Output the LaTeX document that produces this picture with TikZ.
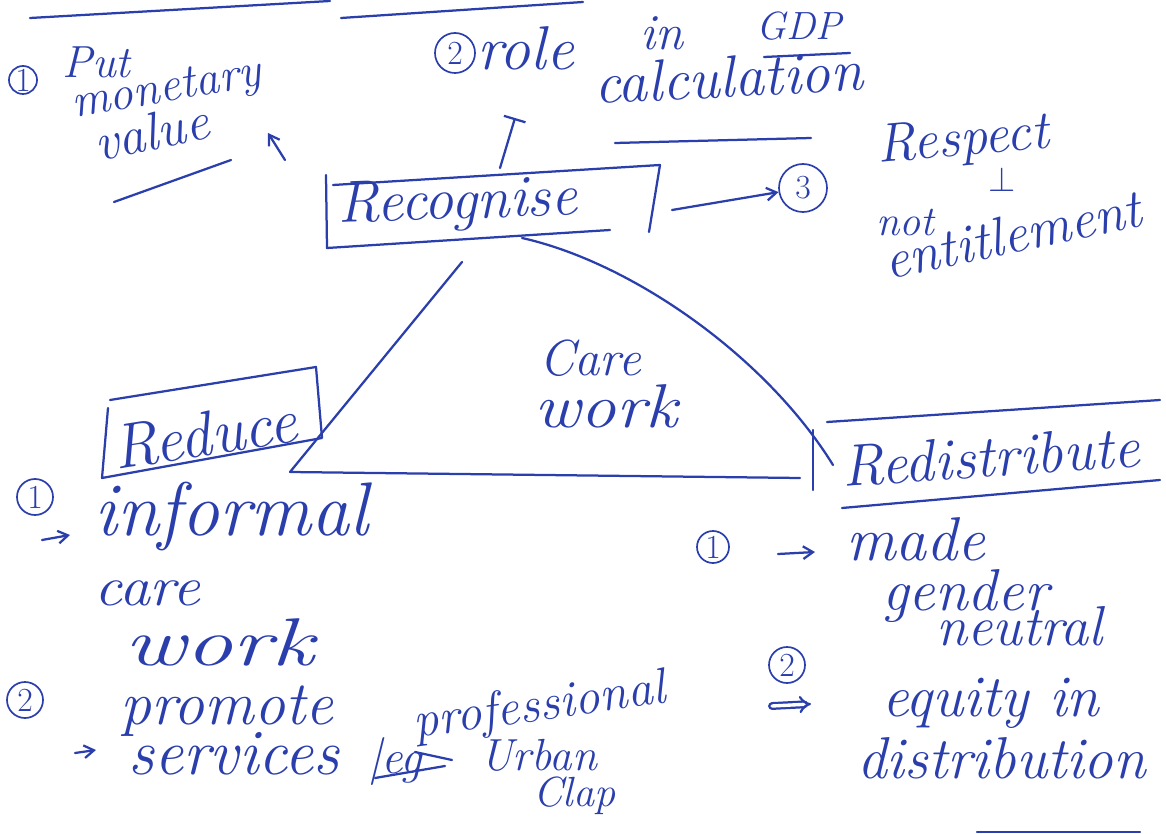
\documentclass[tikz,border=0pt]{standalone}
\usepackage{fontspec}
\usepackage{graphicx}
\usepackage{tikz}
\usetikzlibrary{arrows.meta}
\definecolor{ink}{RGB}{42,62,172}

\begin{document}
\begin{tikzpicture}[x=0.025cm,y=-0.025cm,
	hand/.style={text=ink,font=\fontsize{#1}{#1}\selectfont\itshape,anchor=base west,inner sep=0pt},
	hand/.default=42,
	numc/.style={circle,draw=ink,line width=1.2pt,text=ink,inner sep=0pt,minimum size=#1,font=\fontsize{24}{24}\selectfont},
	numc/.default=0.9cm,
	pen/.style={draw=ink,line width=1.6pt,line cap=round,line join=round},
	arr/.style={pen,-{Straight Barb[length=7pt,width=9pt]}}]
	\useasboundingbox (0,0) rectangle (1166,834);
	
	%top left: monetary value
	\node[numc=0.7cm] (onetop) at (23,80) {1};
	\node[hand=32] (put) at (62,78) {Put};
	\node[hand=34,rotate=10] (monetary) at (74,118) {monetary};
	\node[hand=38,rotate=12] (value) at (98,162) {value};
	%
	%top middle: GDP
	\node[numc=1.0cm] (twotop) at (455,53) {2};
	\node[hand=44] (role) at (477,70) {role};
	\node[hand=36] (in) at (640,50) {in};
	\node[hand=28] (gdp) at (756,40) {GDP};
	\node[hand,rotate=3] (calc) at (595,104) {calculation};
	%
	%recognise
	\node[hand,rotate=2] (recog) at (338,223) {Recognise};
	\node[numc=1.2cm] (three) at (803,188) {3};
	\node[hand=39,rotate=5] (respect) at (878,163) {Respect};
	\node[hand=26] (perp) at (988,192) {$\perp$};
	\node[hand=30] (not) at (876,236) {not};
	\node[hand=39,rotate=12] (entitle) at (888,280) {entitlement};
	%
	%centre
	\node[hand=36,anchor=center] (care) at (590,358) {Care};
	\node[hand=44,anchor=center] (work) at (606,406) {\scalebox{1.15}[1]{work}};
	%
	%reduce
	\node[hand=45,rotate=9] (reduce) at (116,470) {Reduce};
	\node[numc] (onel) at (35,497) {1};
	\node[hand=54] (informal) at (94,535) {informal};
	\node[hand=40] (carel) at (94,605) {\scalebox{1.1}[1]{care}};
	\node[hand=48] (workl) at (124,665) {\scalebox{1.4}[1]{work}};
	\node[numc] (twol) at (25,700) {2};
	\node[hand=44] (promote) at (120,724) {promote};
	\node[hand=46] (services) at (128,774) {services};
	\node[hand=34] (eg) at (368,773) {|eg};
	\node[hand=36,rotate=8] (prof) at (415,738) {professional};
	\node[hand=32] (urban) at (480,770) {Urban};
	\node[hand=30] (clap) at (533,806) {Clap};
	%
	%redistribute
	\node[hand,rotate=4] (redis) at (843,487) {Redistribute};
	\node[numc=0.8cm] (oner) at (713,547) {1};
	\node[hand=44] (made) at (846,560) {made};
	\node[hand=42] (gender) at (882,610) {gender};
	\node[hand=40] (neutral) at (936,645) {neutral};
	\node[numc] (twor) at (787,665) {2};
	\node[hand=42] (equity) at (882,716) {equity in};
	\node[hand=42] (distr) at (857,778) {distribution};
	
	%corners of the hand drawn boxes
	\coordinate (rTL) at (333,185); \coordinate (rTR) at (660,165);
	\coordinate (rBR) at (649,232); \coordinate (rBL) at (327,248);
	\coordinate (rLT) at (326,175);
	\coordinate (dTL) at (110,400); \coordinate (dTR) at (316,367);
	\coordinate (dBR) at (322,438); \coordinate (dBL) at (102,478);
	\coordinate (dLT) at (108,408);
	%triangle
	\coordinate (tL) at (290,472); \coordinate (tLtop) at (462,262);
	\coordinate (tRtop) at (522,238); \coordinate (tR) at (833,465);
	\coordinate (tBase) at (800,478);
	
	%rules at the top
	\draw[pen] (30,18)--(330,1);
	\draw[pen] (341,18)--(583,2);
	\draw[pen] (114,202)--(231,160);						%under value
	\draw[pen] (764,57)--(850,53);							%under GDP
	\draw[pen] (615,143)--(811,138);						%under calculation
	
	%recognise box
	\draw[pen] (rLT)--(rBL)--(610,230);
	\draw[pen] (rTL)--(rTR)--(rBR);
	\draw[arr] (285,160)--(268,133);						%recognise--value
	\draw[pen,-{Bar[width=16pt]}] (500,168)--(515,118);		%recognise--GDP
	\draw[arr] (672,210)--(three);							%recognise--3
	
	%triangle
	\draw[pen] (tLtop)--(tL)--(tBase);
	\draw[pen] (tRtop) .. controls (630,262) and (765,355) .. (tR);
	
	%reduce box
	\draw[pen] (dLT)--(dBL)--(dBR)--(dTR)--(dTL);
	\draw[arr] (42,540)--(70,535);							%1--informal
	\draw[arr] (75,753)--(96,750);							%2--promote
	\draw[pen] (375,778)--(445,766);						%struck out
	\draw[pen] (415,752)--(452,760);
	
	%redistribute lines
	\draw[pen] (827,422)--(1160,400);
	\draw[pen] (842,508)--(1160,480);
	\draw[pen] (813,430)--(813,490);
	\draw[arr] (778,554)--(815,552);						%1--made
	\draw[pen,double=white,double distance=2.4pt,-{Implies}] (772,706)--(811,704);	%2--equity
	\draw[pen] (977,832)--(1140,832);
\end{tikzpicture}
\end{document}
